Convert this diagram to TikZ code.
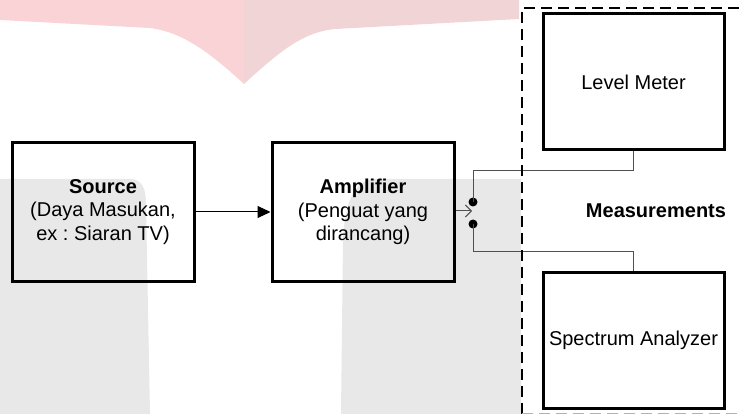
\documentclass[tikz,border=0pt]{standalone}
\usepackage{fontspec}
\setmainfont{Liberation Sans}
\usetikzlibrary{arrows.meta}
\definecolor{wmpinkL}{HTML}{F9D3D5}
\definecolor{wmpinkR}{HTML}{F0D4D6}
\definecolor{wmgrey}{HTML}{E8E8E8}
\definecolor{wirecol}{HTML}{505050}
\frenchspacing
\begin{document}
\begin{tikzpicture}[x=1pt,y=-1pt,
  block/.style={draw, line width=3pt, minimum width=182pt, minimum height=138pt,
    inner sep=0pt, align=center, font=\fontsize{20}{23.5}\selectfont},
  meter/.style={block, minimum width=181pt, minimum height=136pt},
  wire/.style={draw=wirecol, line width=1pt},
  signal/.style={draw=black, line width=1pt},
  contact/.style={circle, fill=black, inner sep=0pt, minimum size=9pt},
  groupframe/.style={draw=black, line width=2pt, dash pattern=on 11pt off 6pt},
  grouplabel/.style={font=\bfseries\fontsize{20}{24}\selectfont}]
\useasboundingbox (0,0) rectangle (739,414);

% faint background emblem
\fill[wmpinkL] (0,0) -- (244,0) -- (244,84) .. controls (205,48) and (180,32) .. (150,28) -- (0,20) -- cycle;
\fill[wmpinkR] (244,0) -- (519,0) -- (519,19) -- (335,29) .. controls (305,32) and (283,48) .. (244,84) -- cycle;
\fill[wmgrey] (0,179) -- (130,179) .. controls (142,179) and (146,188) .. (146,205) -- (150,414) -- (0,414) -- cycle;
\fill[wmgrey] (521,179) -- (375,179) .. controls (355,180) and (345,200) .. (343,240) -- (341,414) -- (521,414) -- cycle;

% blocks
\node[block] (src) at (103,212) {\textbf{Source}\\(Daya Masukan,\\ex : Siaran TV)};
\node[block] (amp) at (363,212) {\textbf{Amplifier}\\(Penguat yang\\dirancang)};
\node[meter] (lvl) at (633.5,82) {Level Meter};
\node[meter] (spa) at (633.5,340.5) {Spectrum Analyzer};
\node[grouplabel] (meas) at (656,211) {Measurements};

% selector contacts
\node[contact] (c1) at (473,202) {};
\node[contact] (c2) at (473,224) {};
\coordinate (tap) at (472,211);

% signal path
\draw[signal, -{Triangle[length=13pt,width=12pt]}] (src.east) -- (src.east -| amp.west);
\draw[signal, draw=wirecol, -{Straight Barb[length=6pt,width=12pt]}] (amp.east |- tap) -- (tap);
\draw[wire] (c1.center) |- (lvl.south |- 0,171) -- (lvl.south);
\draw[wire] (c2.center) |- (spa.north |- 0,252) -- (spa.north);

% measurement group frame
\draw[groupframe] (521.5,414) -- (521.5,8.5) -- (745,8.5);
\draw[groupframe, draw=gray!60] (521.5,413.5) -- (745,413.5);
\end{tikzpicture}
\end{document}
